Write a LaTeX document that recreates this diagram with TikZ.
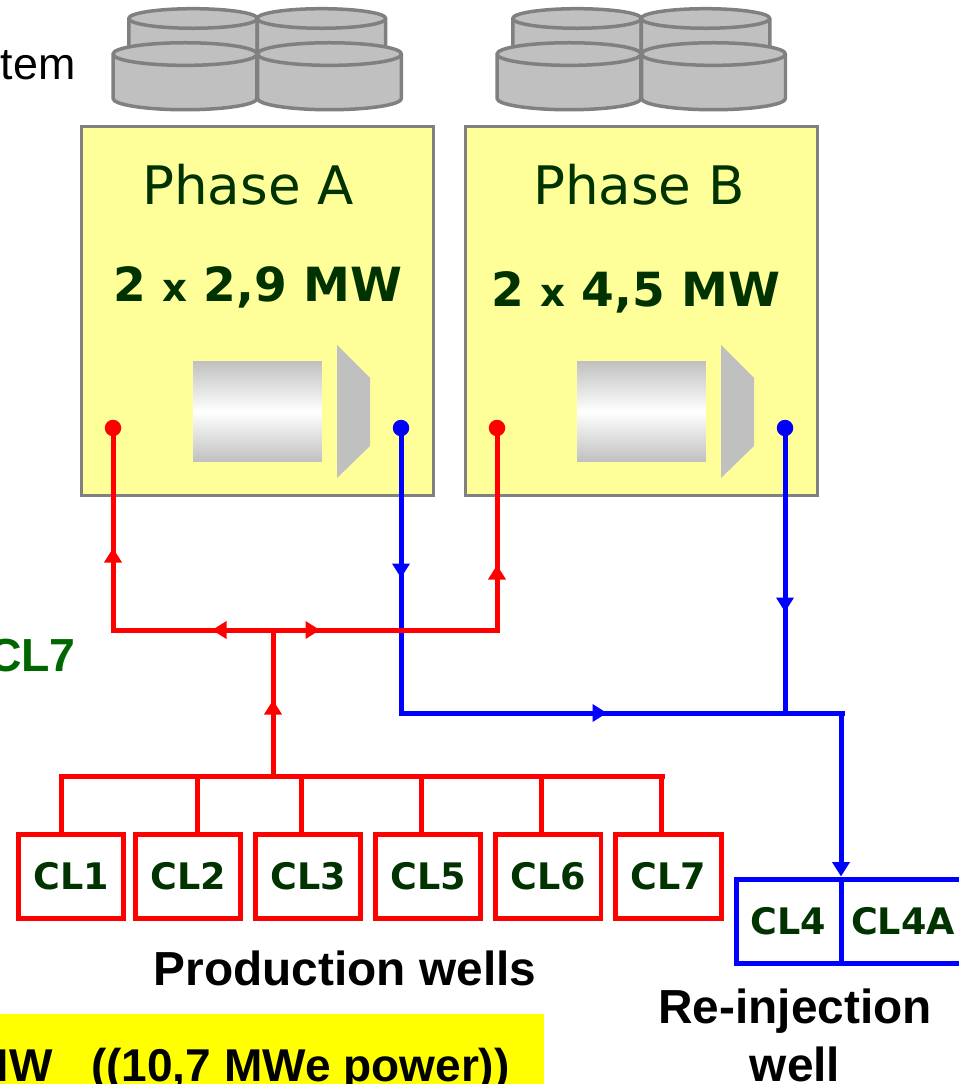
\documentclass[tikz,border=0pt]{standalone}
\usepackage{fontspec}
\setmainfont{Liberation Sans}
\newfontfamily\verdanafont{DejaVu Sans}
\usepackage{tikz}
\usetikzlibrary{shapes.geometric}
\usetikzlibrary{arrows.meta}
\definecolor{tankgray}{HTML}{808080}
\definecolor{tankfill}{HTML}{C0C0C0}
\definecolor{phasefill}{HTML}{FFFF99}
\definecolor{darkgreen}{HTML}{003300}
\definecolor{labelgreen}{HTML}{006600}
\definecolor{barfill}{HTML}{FFFF00}
\definecolor{redflow}{HTML}{FF0000}
\definecolor{blueflow}{HTML}{0000FF}

\begin{document}
\begin{tikzpicture}[
		x=0.02cm, y=-0.02cm,
		phasebox/.style={draw=tankgray, fill=phasefill, line width=0.06cm, minimum width=7.06cm, minimum height=7.4cm},
		backtank/.style={draw=tankgray, fill=tankfill, line width=0.07cm, cylinder, shape border rotate=90, aspect=1.67, minimum width=2.57cm, minimum height=1.04cm},
		fronttank/.style={draw=tankgray, fill=tankfill, line width=0.07cm, cylinder, shape border rotate=90, aspect=1.93, minimum width=2.88cm, minimum height=1.34cm},
		machine/.style={minimum width=2.58cm, minimum height=2.02cm, top color=tankfill, bottom color=tankfill, middle color=white},
		phasetext/.style={font=\verdanafont\fontsize{30.2}{30.2}\selectfont, text=darkgreen, anchor=base},
		ratetext/.style={font=\verdanafont\bfseries\fontsize{26.8}{26.8}\selectfont, text=darkgreen, anchor=base west, inner sep=0pt},
		labeltext/.style={font=\bfseries\fontsize{27.2}{27.2}\selectfont, anchor=base},
		redwell/.style={draw=redflow, line width=0.1cm, minimum width=2.12cm, minimum height=1.68cm, text=darkgreen, font=\verdanafont\bfseries\fontsize{20.8}{20.8}\selectfont},
		bluewell/.style={redwell, draw=blueflow},
		reddot/.style={circle, fill=redflow, minimum size=0.33cm, inner sep=0pt},
		bluedot/.style={circle, fill=blueflow, minimum size=0.33cm, inner sep=0pt},
		redline/.style={draw=redflow, line width=0.1cm},
		blueline/.style={draw=blueflow, line width=0.1cm},
		flowtip/.style={-{Triangle[length=0.29cm, width=0.34cm]}}
	]
	\useasboundingbox (0,0) rectangle (959,1084);
	\clip (0,0) rectangle (959,1084);

	\node[backtank] (tankA1) at (193,42.5) {};
	\node[backtank] (tankA2) at (321.5,42.5) {};
	\node[fronttank] (tankA3) at (185,85) {};
	\node[fronttank] (tankA4) at (329.5,85) {};
	\node[backtank] (tankB1) at (577,42.5) {};
	\node[backtank] (tankB2) at (705.5,42.5) {};
	\node[fronttank] (tankB3) at (569,85) {};
	\node[fronttank] (tankB4) at (713.5,85) {};

	\node[phasebox] (phaseA) at (257.5,311) {};
	\node[phasebox] (phaseB) at (641.5,311) {};

	\node[phasetext] (titleA) at (248,205) {Phase A};
	\node[phasetext] (titleB) at (639,205) {Phase B};
	\node[ratetext] (rateA) at (113,301) {2 {\fontsize{22}{22}\selectfont x} 2,9 MW};
	\node[ratetext] (rateB) at (491,306) {2 {\fontsize{22}{22}\selectfont x} 4,5 MW};

	\node[machine] (machineA) at (257.5,411.5) {};
	\node[machine] (machineB) at (641.5,411.5) {};
	\fill[tankfill] (337,345) -- (370,378) -- (370,446) -- (337,478) -- cycle;
	\fill[tankfill] (721,345) -- (754,378) -- (754,446) -- (721,478) -- cycle;

	\node[font=\fontsize{25.5}{25.5}\selectfont, anchor=base east, inner sep=0pt] (system) at (76,80) {tem};
	\node[font=\bfseries\fontsize{26.4}{26.4}\selectfont, text=labelgreen, anchor=base east, inner sep=0pt] (sideCL) at (76,671) {CL7};

	\node[redwell] (cl1) at (71,876) {CL1};
	\node[redwell] (cl2) at (188,876) {CL2};
	\node[redwell] (cl3) at (308,876) {CL3};
	\node[redwell] (cl5) at (428,876) {CL5};
	\node[redwell] (cl6) at (548,876) {CL6};
	\node[redwell] (cl7) at (668,876) {CL7};
	\node[bluewell, minimum width=2.1cm] (cl4) at (788.5,921) {CL4};
	\node[bluewell, minimum width=2.48cm] (cl4a) at (903,921) {CL4A};

	\node[reddot] (inA) at (113,428) {};
	\node[bluedot] (outA) at (401,428) {};
	\node[reddot] (inB) at (497,428) {};
	\node[bluedot] (outB) at (785,428) {};

	\coordinate (bendA) at (401,713);
	\coordinate (tipA) at (401,578);
	\coordinate (tipB) at (785,612);
	\coordinate (joinB) at (785,713);
	\coordinate (tipE) at (607,713);
	\coordinate (blueend) at (845,713);
	\coordinate (blueturn) at (841,713);

	\draw[blueline] (outA.center) -- (bendA) -- (blueend);
	\draw[blueline, flowtip] (outA.center) -- (tipA);
	\draw[blueline, flowtip] (bendA) -- (tipE);
	\draw[blueline] (outB.center) -- (joinB);
	\draw[blueline, flowtip] (outB.center) -- (tipB);
	\draw[blueline, flowtip] (blueturn) -- (blueturn |- cl4.north);

	\coordinate (busL) at (59,776);
	\coordinate (busR) at (665,776);
	\coordinate (busM) at (273,776);
	\coordinate (tipM) at (273,700);
	\coordinate (tee) at (273,630);
	\coordinate (tipL) at (212,630);
	\coordinate (tipR) at (320,630);
	\coordinate (cornerL) at (113,630);
	\coordinate (cornerR) at (497,630);
	\coordinate (tipAin) at (113,548);
	\coordinate (tipBin) at (497,565);
	\coordinate (stub1) at (61,776);
	\coordinate (stub2) at (197,776);
	\coordinate (stub3) at (301,776);
	\coordinate (stub5) at (421,776);
	\coordinate (stub6) at (541,776);
	\coordinate (stub7) at (661,776);

	\draw[redline] (busL) -- (busR);
	\draw[redline] (stub1) -- (stub1 |- cl1.north);
	\draw[redline] (stub2) -- (stub2 |- cl2.north);
	\draw[redline] (stub3) -- (stub3 |- cl3.north);
	\draw[redline] (stub5) -- (stub5 |- cl5.north);
	\draw[redline] (stub6) -- (stub6 |- cl6.north);
	\draw[redline] (stub7) -- (stub7 |- cl7.north);

	\draw[redline] (busM) -- (tee);
	\draw[redline, flowtip] (busM) -- (tipM);
	\draw[redline] (inA.center) -- (cornerL) -- (cornerR) -- (inB.center);
	\draw[redline, flowtip] (tee) -- (tipL);
	\draw[redline, flowtip] (cornerL) -- (tipAin);
	\draw[redline, flowtip] (tee) -- (tipR);
	\draw[redline, flowtip] (cornerR) -- (tipBin);

	\node[labeltext] (prodlabel) at (345,985) {Production wells};
	\node[labeltext] (reinjlabel) at (795,1023) {Re-injection};
	\node[labeltext] (welllabel) at (795,1081) {well};

	\node[fill=barfill, minimum width=10.88cm, minimum height=1.6cm, anchor=north east] (powerbar) at (544,1014) {};
	\node[font=\bfseries\fontsize{26.2}{26.2}\selectfont, anchor=base east, inner sep=0pt] (powertext) at (510,1081) {MW~~~((10,7 MWe power))};
\end{tikzpicture}
\end{document}
